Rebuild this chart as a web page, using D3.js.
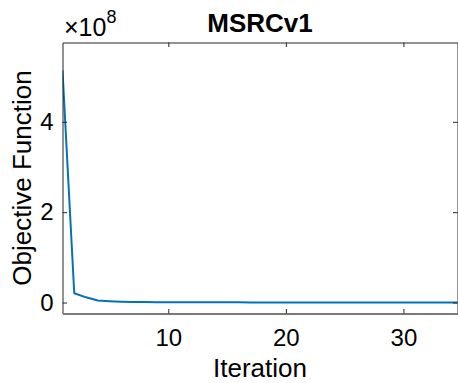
<!DOCTYPE html>
<html>
<head>
<meta charset="utf-8">
<script src="https://cdn.jsdelivr.net/npm/d3@7"></script>
<style>
  body { margin: 0; background: #fff; }
  svg { display: block; font-family: "Liberation Sans", Arial, sans-serif; }
</style>
</head>
<body>
<div id="chart"></div>
<script>
// objective value per iteration (x 1e8)
const iterations = d3.range(1, 36);
const objective = [
  5.14, 0.205, 0.115, 0.045, 0.030, 0.019, 0.013, 0.010, 0.008, 0.007,
  0.006, 0.005, 0.005, 0.004, 0.004, 0.004, 0.003, 0.003, 0.003, 0.003,
  0.003, 0.003, 0.002, 0.002, 0.002, 0.002, 0.002, 0.002, 0.002, 0.002,
  0.002, 0.002, 0.002, 0.002, 0.002
];
const xTicks = [10, 20, 30];
const yTicks = [0, 2, 4];
const xLimits = [1, 34.6];
const yLimits = [-0.243, 5.756];

const width = 458, height = 383;
const box = { left: 62.5, right: 457.5, top: 42.5, bottom: 313.5 };

const svg = d3.select('#chart')
  .append('svg')
  .attr('width', width)
  .attr('height', height);

const x = d3.scaleLinear().domain(xLimits).range([box.left, box.right]);
const y = d3.scaleLinear().domain(yLimits).range([box.bottom, box.top]);

const ink = '#262626';

svg.append('clipPath').attr('id', 'clip')
  .append('rect')
  .attr('x', box.left).attr('y', box.top)
  .attr('width', box.right - box.left).attr('height', box.bottom - box.top);

// data line
const line = d3.line().x((d, i) => x(iterations[i])).y(d => y(d));
svg.append('path')
  .datum(objective)
  .attr('clip-path', 'url(#clip)')
  .attr('fill', 'none')
  .attr('stroke', '#0072BD')
  .attr('stroke-width', 2)
  .attr('stroke-linejoin', 'round')
  .attr('d', line);

// axes with inward ticks, like matlab box on
const tickLen = 4.5;
const fmt = d3.format('d');
const xBottom = d3.axisBottom(x).tickValues(xTicks).tickFormat(fmt).tickSizeInner(-tickLen).tickSizeOuter(0).tickPadding(15);
const xTop = d3.axisTop(x).tickValues(xTicks).tickSizeInner(-tickLen).tickSizeOuter(0).tickFormat('');
const yLeft = d3.axisLeft(y).tickValues(yTicks).tickFormat(fmt).tickSizeInner(-tickLen).tickSizeOuter(0).tickPadding(9);
const yRight = d3.axisRight(y).tickValues(yTicks).tickSizeInner(-tickLen).tickSizeOuter(0).tickFormat('');

function styleAxis(g, color) {
  g.select('.domain').attr('stroke', color);
  g.selectAll('.tick line').attr('stroke', ink);
  g.selectAll('.tick text')
    .attr('fill', '#000')
    .style('font-size', '24px')
    .style('font-family', '"Liberation Sans", Arial, sans-serif');
}

svg.append('g').attr('transform', `translate(0,${box.top})`).call(xTop).call(g => styleAxis(g, ink));
svg.append('g').attr('transform', `translate(${box.right},0)`).call(yRight).call(g => styleAxis(g, ink));
svg.append('g').attr('transform', `translate(${box.left},0)`).call(yLeft).call(g => styleAxis(g, ink));
svg.append('g').attr('transform', `translate(0,${box.bottom})`).call(xBottom)
  .call(g => styleAxis(g, '#7a7a7a'))
  .call(g => g.select('.domain').attr('stroke-width', 2));

// exponent label
const expo = svg.append('text')
  .attr('x', 64).attr('y', 36)
  .attr('fill', '#000')
  .style('font-size', '25px');
expo.append('tspan').text('\u00d710');
expo.append('tspan').attr('dy', -13).style('font-size', '18px').text('8');

// title
svg.append('text')
  .attr('x', (box.left + box.right) / 2).attr('y', 32)
  .attr('text-anchor', 'middle')
  .attr('fill', '#000')
  .style('font-size', '26px')
  .style('font-weight', 'bold')
  .text('MSRCv1');

// axis labels
svg.append('text')
  .attr('x', (box.left + box.right) / 2).attr('y', 377)
  .attr('text-anchor', 'middle')
  .attr('fill', '#000')
  .style('font-size', '26px')
  .text('Iteration');

svg.append('text')
  .attr('transform', `translate(31,${(box.top + box.bottom) / 2}) rotate(-90)`)
  .attr('text-anchor', 'middle')
  .attr('fill', '#000')
  .style('font-size', '26px')
  .text('Objective Function');
</script>
</body>
</html>
